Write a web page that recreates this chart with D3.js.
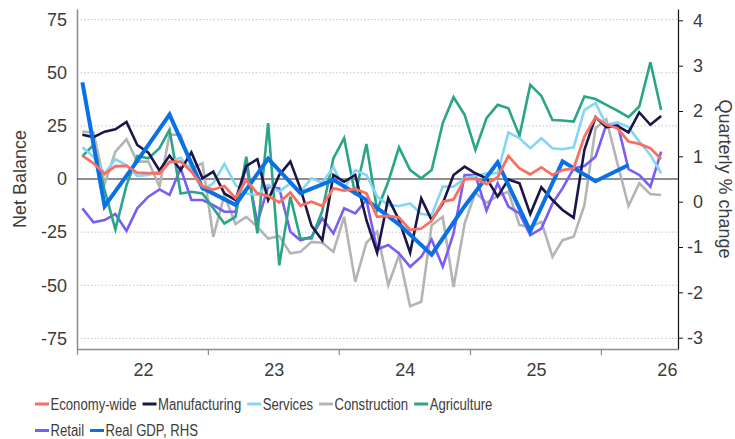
<!DOCTYPE html>
<html>
<head>
<meta charset="utf-8">
<script src="https://cdn.jsdelivr.net/npm/d3@7"></script>
<style>
  body { margin: 0; background: #fff; }
  svg { display: block; font-family: "Liberation Sans", Arial, sans-serif; }
</style>
</head>
<body>
<svg id="chart" width="735" height="439"></svg>
<script>
// Monthly survey balances, Jul 2021 – Dec 2025
const months = d3.timeMonth.range(new Date(2021, 6, 1), new Date(2026, 0, 1));

const economyWide = [11, 7.4, 2.4, 6, 6.2, 3, 2.8, 2.6, 8, 8.2, 3.5, -3.5, -5, -3.3, -9, -0.5, -6.8, -8, -11, -6.4,
  -12.5, -10.7, -12.7, -4.4, -5.5, -4.7, -6.8, -17.8, -17.4, -18.1, -24, -23.3, -19.7, -10.7, -9.6, -0.2, 0.2, -2.4, 0.8, 10.8,
  5, 2.2, 5.5, 1.9, 4.2, 5, 20, 29.1, 25.5, 23.9, 17.6, 16.5, 14.5, 9.4];
const manufacturing = [20.8, 19.7, 22.3, 23.4, 26.9, 16, 12.4, 4, 11, 4.2, 12.5, 0.3, 3.5, -6.8, -9.9, 6.1, 9.3, -9.9, 1.9, 8.2,
  -4.4, -22, -28.8, 1.9, -1.3, 1.9, -19.3, -34.7, -9.1, -19.3, -34.7, -9.1, -19.3, -11.5, 1.9, 5.8, 2.7, 0.3, -8.3, -0.2,
  -2, -16.5, -3.9, -9.9, -14.6, -18.2, 13.7, 29.1, 24.4, 25, 21.9, 31.3, 25.5, 29.7];
const services = [14.9, 10.5, 2.5, 9.3, 6.5, 1.5, 1.9, 3.5, 8.2, 10, 4, -5, -2, 7.1, -2.8, -6.8, -7.5, -2.8, -6, -2,
  -6, 0.3, -1.7, 5.5, -4.4, 4.2, 1.9, -8.3, -12.3, -12.7, -11.5, -16.5, -17, -3.6, -3.6, 0.3, 1.4, 2.7, 2.7, 21.9,
  19.2, 14.5, 19.2, 14.5, 14, 14.9, 32.5, 35.7, 25.5, 26.6, 24.4, 17.6, 11.3, 2.7];
const construction = [22.3, 21.9, -2.4, 12.9, 18.7, 8.2, 8.2, -3.6, 20.8, 20.8, 5, 7.4, -27.2, -7.5, -21.2, -17.8, -22.5, -28, -26.9, -35,
  -34.3, -29.6, -30, -34.3, -17.8, -48.4, -30, -24.8, -50, -35.8, -59.9, -57.8, -21.7, -17.8, -50.8, -20.9, -6.4, -11.2, -8, -6,
  -21.7, -22.5, -20.1, -36.6, -28.8, -27.2, -12.3, 23.9, 28.1, 7.4, -12.7, -2, -7.1, -7.5];
const agriculture = [10.8, 16, -5.2, -23.7, -3, 10.8, 9.7, 14.5, 23.1, -6.8, -6, -6.8, -13.8, -20.9, -17.8, 10.5, -25.6, 26.3, -40.6, -8.3,
  -28, -28, -15, 9.7, 19.2, -7.5, 16.5, -14.6, -1.3, 14.9, 4.2, 0.3, 4.2, 26.3, 38.5, 30.2, 13.7, 28.6, 34.9, 33.3,
  20.3, 44.3, 39.1, 27.8, 27.5, 27, 38.8, 37.6, 34.9, 32.2, 29.1, 34.1, 54.9, 32.5];
const retail = [-13.8, -20.4, -19.3, -16.5, -24.4, -13.8, -8.3, -4.9, -7.5, 5, -9.9, -9.9, -12.3, -15.4, -15.4, 6.6, -20.6, -3.6, -4.4, -24.8,
  -28.8, -27.2, -18.5, -25.6, -13.8, -16.2, -9.9, -33.2, -31.1, -35, -41.3, -36.6, -28.5, -41.3, -25.6, 1.9, 1.9, -14.9, -2, -13,
  -16.2, -26.4, -23.3, -11.5, -4.4, 5, 6.1, 10.5, 25.5, 26.3, 4.6, 1.9, -3.6, 12.9];

// Real GDP, quarterly % change (right-hand scale)
const gdpDates = ["2021-07", "2021-09", "2021-12", "2022-03", "2022-06", "2022-09", "2022-12", "2023-03", "2023-06",
  "2023-09", "2023-12", "2024-03", "2024-06", "2024-09", "2024-12", "2025-03", "2025-06", "2025-09"];
const gdpValues = [2.63, -0.1, 0.9, 1.92, 0.3, -0.07, 0.95, 0.19, 0.48, 0.04, -0.5, -1.17, -0.1, 0.87, -0.65, 0.89, 0.45, 0.81];

const leftTicks = [-75, -50, -25, 0, 25, 50, 75];
const rightTicks = [-3, -2, -1, 0, 1, 2, 3, 4];
const yearLabels = ["22", "23", "24", "25", "26"];

const series = [
  { name: "Economy-wide", values: economyWide, color: "#f96f62" },
  { name: "Manufacturing", values: manufacturing, color: "#1b1548" },
  { name: "Services", values: services, color: "#84d5f6" },
  { name: "Construction", values: construction, color: "#b4b4b4" },
  { name: "Agriculture", values: agriculture, color: "#2aa586" },
  { name: "Retail", values: retail, color: "#7b5cf4" }
];
const gdpSeries = { name: "Real GDP, RHS", color: "#0a70e6" };

const svg = d3.select("#chart");
const m = { left: 77, right: 678, top: 9, bottom: 349 };
const textColor = "#3c3c3c";
const plain = d => String(d);   // hyphen-minus, as on the printed axes

const x = d3.scaleTime()
  .domain([new Date(2021, 6, 1), new Date(2026, 1, 1)])
  .range([m.left, m.right]);
const yL = d3.scaleLinear().domain([-80, 80]).range([m.bottom, m.top]);
const yR = d3.scaleLinear().domain([-3.25, 4.25]).range([m.bottom, m.top]);

const mid = d => new Date(d.getFullYear(), d.getMonth(), 16);
const parseYM = d3.timeParse("%Y-%m");

// dotted gridlines
svg.append("g")
  .selectAll("line")
  .data(leftTicks.filter(t => t !== 0))
  .join("line")
  .attr("x1", m.left).attr("x2", m.right)
  .attr("y1", d => yL(d)).attr("y2", d => yL(d))
  .attr("stroke", "#b7c9d6").attr("stroke-width", 1)
  .attr("stroke-dasharray", "1.5,2");

// left axis
const gL = svg.append("g")
  .attr("transform", `translate(${m.left},0)`)
  .call(d3.axisLeft(yL).tickValues(leftTicks).tickFormat(plain)
    .tickSize(0).tickSizeOuter(0).tickPadding(10));
gL.select(".domain").attr("stroke", "#8c8c8c").attr("stroke-width", 1.5);
gL.selectAll("text").attr("font-size", 18).attr("fill", textColor)
  .attr("font-family", "Liberation Sans, Arial, sans-serif");

// right axis
const gR = svg.append("g")
  .attr("transform", `translate(${m.right},0)`)
  .call(d3.axisRight(yR).tickValues(rightTicks).tickFormat(plain)
    .tickSize(5).tickSizeOuter(0).tickPadding(4));
gR.select(".domain").attr("stroke", "#111").attr("stroke-width", 1.2);
gR.selectAll(".tick line").attr("stroke", "#111");
gR.selectAll("text").attr("font-size", 18).attr("fill", textColor)
  .attr("font-family", "Liberation Sans, Arial, sans-serif")
  .attr("text-anchor", "end").attr("x", 25);

// bottom axis: ticks at mid-year, year labels at the turn of each year
const gB = svg.append("g")
  .attr("transform", `translate(0,${m.bottom})`)
  .call(d3.axisBottom(x)
    .tickValues(d3.range(2021, 2026).map(y => new Date(y, 6, 1)))
    .tickSize(6).tickSizeOuter(0).tickFormat(""));
gB.select(".domain").attr("stroke", "#8c8c8c").attr("stroke-width", 1.5);
gB.selectAll(".tick line").attr("stroke", "#8c8c8c").attr("stroke-width", 1.2);

const gB2 = svg.append("g")
  .attr("transform", `translate(0,${m.bottom})`)
  .call(d3.axisBottom(x)
    .tickValues(yearLabels.map(l => new Date(2000 + +l, 0, 1)))
    .tickSize(0).tickPadding(14)
    .tickFormat((d, i) => yearLabels[i]));
gB2.select(".domain").remove();
gB2.selectAll("text").attr("font-size", 18).attr("fill", textColor)
  .attr("font-family", "Liberation Sans, Arial, sans-serif");

// zero line
svg.append("line")
  .attr("x1", m.left).attr("x2", m.right)
  .attr("y1", yL(0)).attr("y2", yL(0))
  .attr("stroke", "#222").attr("stroke-width", 1.2);

// axis titles
svg.append("text")
  .attr("transform", `translate(20,${yL(0)}) rotate(-90)`)
  .attr("text-anchor", "middle").attr("dy", "0.35em")
  .attr("font-size", 18).attr("fill", textColor)
  .text("Net Balance");
svg.append("text")
  .attr("transform", `translate(725,${yL(0)}) rotate(90)`)
  .attr("text-anchor", "middle").attr("dy", "0.35em")
  .attr("font-size", 18).attr("fill", textColor)
  .text("Quarterly % change");

// series lines
const lineL = d3.line().x((d, i) => x(mid(months[i]))).y(d => yL(d));
const drawOrder = ["Construction", "Retail", "Agriculture", "Services", "Manufacturing"];
drawOrder.forEach(n => {
  const s = series.find(s => s.name === n);
  svg.append("path").datum(s.values)
    .attr("fill", "none").attr("stroke", s.color)
    .attr("stroke-width", 2.6).attr("stroke-linejoin", "miter")
    .attr("d", lineL);
});

const gdpData = gdpDates.map((d, i) => ({ date: mid(parseYM(d)), value: gdpValues[i] }));
svg.append("path").datum(gdpData)
  .attr("fill", "none").attr("stroke", gdpSeries.color)
  .attr("stroke-width", 4).attr("stroke-linejoin", "miter")
  .attr("d", d3.line().x(d => x(d.date)).y(d => yR(d.value)));

const eco = series.find(s => s.name === "Economy-wide");
svg.append("path").datum(eco.values)
  .attr("fill", "none").attr("stroke", eco.color)
  .attr("stroke-width", 2.8).attr("stroke-linejoin", "miter")
  .attr("d", lineL);

// legend: two rows, condensed lettering
const legendItems = [...series, gdpSeries];
const rows = [legendItems.slice(0, 5), legendItems.slice(5)];
const legend = svg.append("g");
const condense = 0.82;
rows.forEach((row, r) => {
  let cx = 35;
  const cy = 404 + r * 26.5;
  row.forEach(item => {
    legend.append("line")
      .attr("x1", cx).attr("x2", cx + 14)
      .attr("y1", cy).attr("y2", cy)
      .attr("stroke", item.color).attr("stroke-width", 3);
    const t = legend.append("text")
      .attr("x", cx + 15.5).attr("y", cy).attr("dy", "0.35em")
      .attr("font-size", 16).attr("fill", textColor)
      .text(item.name);
    const w = t.node().getComputedTextLength() * condense;
    t.attr("textLength", w).attr("lengthAdjust", "spacingAndGlyphs");
    cx += 15.5 + w + 6;
  });
});
</script>
</body>
</html>
